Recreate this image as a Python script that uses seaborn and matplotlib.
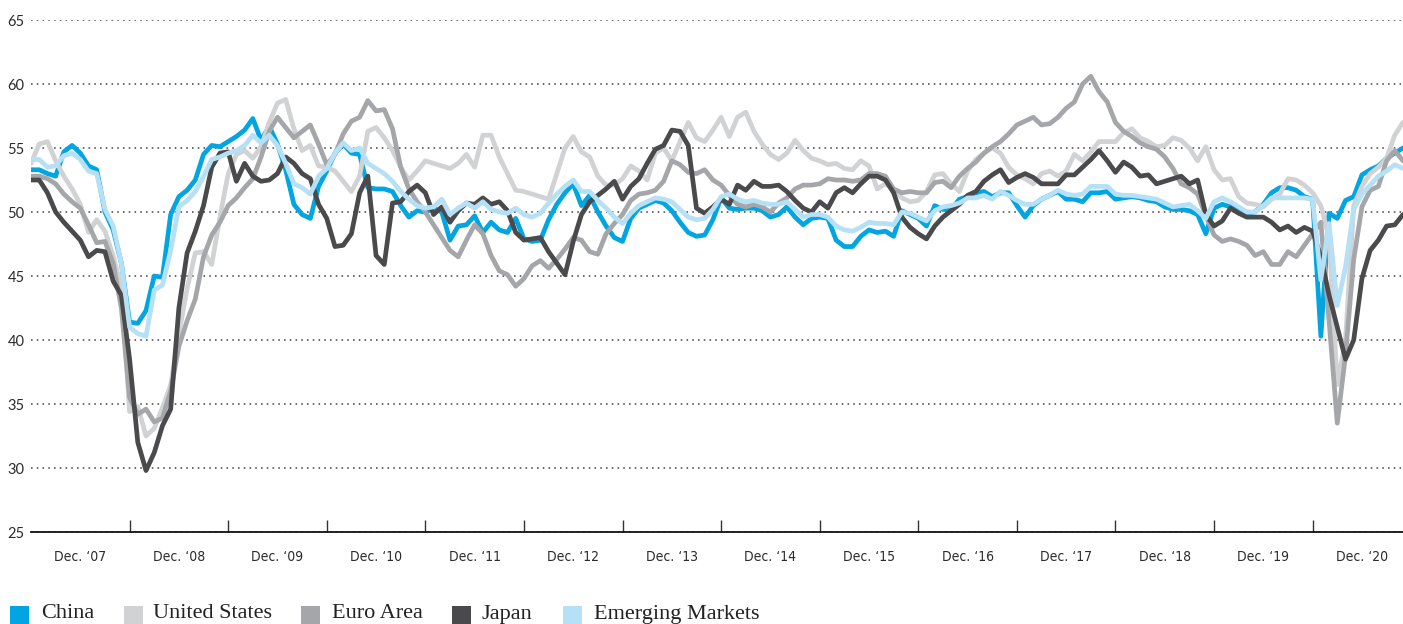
import numpy as np
import pandas as pd
import matplotlib
matplotlib.use("Agg")
import matplotlib.pyplot as plt
from matplotlib.patches import Rectangle
from matplotlib import font_manager
import seaborn as sns

# ---------------- data (monthly PMI readings) ----------------
series_names = ["China", "United States", "Euro Area", "Japan", "Emerging Markets"]

china = [53.3, 53.3, 53.0, 52.8, 54.7, 55.2, 54.6, 53.6, 53.3, 50.0,
         48.6, 46.0, 41.4, 41.3, 42.3, 45.0, 44.9, 49.8, 51.2, 51.7,
         52.5, 54.5, 55.2, 55.1, 55.5, 55.9, 56.4, 57.3, 55.6, 56.7,
         55.3, 53.3, 50.6, 49.8, 49.5, 52.0, 53.2, 54.6, 55.3, 54.6,
         54.5, 51.9, 51.8, 51.8, 51.6, 50.5, 49.6, 50.1, 50.0, 50.3,
         50.0, 47.8, 48.9, 49.0, 49.7, 48.4, 49.2, 48.6, 48.4, 49.5,
         47.9, 47.7, 47.8, 49.4, 50.6, 51.5, 52.2, 50.5, 51.3, 50.0,
         48.9, 48.0, 47.7, 49.5, 50.3, 50.6, 50.9, 50.7, 50.1, 49.2,
         48.4, 48.1, 48.2, 49.4, 51.1, 50.3, 50.2, 50.3, 50.3, 50.1,
         49.6, 49.8, 50.4, 49.6, 49.0, 49.5, 49.6, 49.5, 47.8, 47.3,
         47.3, 48.1, 48.6, 48.4, 48.5, 48.1, 50.1, 49.8, 49.5, 48.9,
         50.5, 50.2, 50.2, 51.0, 51.2, 51.5, 51.6, 51.2, 51.5, 51.5,
         50.5, 49.6, 50.5, 51.0, 51.3, 51.6, 51.0, 51.0, 50.8, 51.5,
         51.5, 51.6, 51.0, 51.1, 51.2, 51.1, 50.9, 50.8, 50.4, 50.2,
         50.2, 50.1, 49.8, 48.3, 50.3, 50.6, 50.4, 50.2, 49.9, 50.0,
         50.6, 51.5, 51.9, 51.9, 51.7, 51.2, 51.0, 40.3, 49.9, 49.5,
         50.9, 51.2, 52.9, 53.3, 53.6, 54.2, 54.6, 55.0]

united_states = [53.8, 55.3, 55.5, 54.0, 52.8, 51.8, 50.6, 48.4, 49.4, 48.5,
                 46.6, 44.0, 34.4, 34.8, 32.5, 33.1, 34.7, 36.5, 40.5, 44.0,
                 46.8, 46.9, 45.9, 49.6, 53.0, 54.5, 54.8, 54.2, 55.1, 57.0,
                 58.5, 58.8, 56.5, 54.8, 55.2, 53.6, 53.5, 53.2, 52.4, 51.6,
                 52.8, 56.3, 56.6, 55.8, 54.8, 53.5, 52.5, 53.2, 54.0, 53.8,
                 53.6, 53.4, 53.8, 54.5, 53.5, 56.0, 56.0, 54.3, 53.0, 51.7,
                 51.6, 51.4, 51.2, 51.0, 53.0, 55.0, 55.9, 54.7, 54.3, 52.8,
                 52.1, 52.1, 52.6, 53.6, 53.2, 52.5, 54.6, 55.0, 54.0, 55.5,
                 57.0, 55.8, 55.5, 56.4, 57.4, 55.9, 57.4, 57.8, 56.3, 55.3,
                 54.5, 54.1, 54.6, 55.6, 54.8, 54.2, 54.0, 53.7, 53.8, 53.4,
                 53.3, 54.0, 53.6, 51.8, 52.2, 51.8, 51.1, 50.8, 50.9, 51.6,
                 52.9, 53.0, 52.2, 51.6, 53.2, 54.1, 54.6, 55.0, 54.6, 53.5,
                 52.9, 52.6, 52.2, 53.0, 53.2, 52.8, 53.2, 54.5, 54.0, 54.7,
                 55.5, 55.5, 55.5, 56.2, 56.5, 55.8, 55.5, 55.1, 55.2, 55.8,
                 55.6, 55.0, 54.0, 55.1, 53.3, 52.5, 52.6, 51.2, 50.7, 50.6,
                 50.4, 51.0, 51.4, 52.6, 52.5, 52.1, 51.5, 50.5, 48.0, 36.5,
                 40.0, 50.5, 52.0, 53.0, 53.5, 54.2, 56.0, 57.0]

euro_area = [52.8, 52.8, 52.6, 52.2, 51.4, 50.8, 50.3, 49.0, 47.6, 47.7,
             46.0, 42.5, 35.5, 34.2, 34.6, 33.6, 33.9, 36.0, 39.5, 41.5,
             43.2, 46.5, 48.2, 49.2, 50.5, 51.1, 51.9, 52.6, 54.3, 56.3,
             57.4, 56.6, 55.8, 56.3, 56.8, 55.3, 53.7, 54.5, 56.1, 57.1,
             57.4, 58.7, 57.9, 58.0, 56.5, 53.5, 51.8, 50.8, 50.0, 49.0,
             48.0, 47.0, 46.5, 47.8, 49.0, 48.3, 46.6, 45.4, 45.1, 44.2,
             44.8, 45.8, 46.2, 45.6, 46.3, 47.1, 48.0, 47.8, 46.9, 46.7,
             48.3, 49.1, 49.8, 50.9, 51.4, 51.5, 51.7, 52.4, 54.0, 53.7,
             53.1, 53.0, 53.3, 52.5, 52.1, 51.3, 50.6, 50.4, 50.6, 50.4,
             50.0, 50.7, 51.1, 51.8, 52.1, 52.1, 52.2, 52.6, 52.5, 52.5,
             52.4, 52.5, 53.0, 53.0, 52.8, 51.8, 51.5, 51.6, 51.5, 51.5,
             52.3, 52.4, 51.9, 52.8, 53.4, 53.9, 54.6, 55.1, 55.5, 56.1,
             56.8, 57.1, 57.4, 56.8, 56.9, 57.4, 58.1, 58.6, 60.0, 60.6,
             59.4, 58.6, 57.0, 56.3, 55.9, 55.4, 55.1, 54.9, 54.3, 53.4,
             52.2, 51.9, 51.4, 49.7, 48.2, 47.7, 47.9, 47.7, 47.4, 46.6,
             46.9, 45.9, 45.9, 46.9, 46.5, 47.4, 48.3, 49.2, 41.5, 33.5,
             38.8, 46.3, 50.4, 51.7, 52.0, 54.0, 54.8, 54.0]

japan = [52.5, 52.5, 51.5, 50.0, 49.2, 48.5, 47.8, 46.5, 47.0, 46.9,
         44.6, 43.5, 38.5, 32.0, 29.8, 31.2, 33.3, 34.6, 42.5, 46.8,
         48.5, 50.5, 53.5, 54.6, 54.7, 52.4, 53.8, 52.8, 52.4, 52.5,
         53.0, 54.3, 53.8, 53.0, 52.6, 50.6, 49.5, 47.3, 47.4, 48.3,
         51.5, 52.8, 46.6, 45.9, 50.7, 50.8, 51.6, 52.1, 51.5, 49.8,
         50.4, 49.2, 50.1, 50.7, 50.6, 51.1, 50.6, 50.8, 50.1, 48.4,
         47.8, 47.9, 48.0, 46.9, 46.0, 45.1, 47.7, 49.8, 50.8, 51.3,
         51.8, 52.4, 51.0, 52.0, 52.6, 53.8, 54.9, 55.2, 56.4, 56.3,
         55.2, 50.3, 49.9, 50.4, 51.0, 50.6, 52.1, 51.7, 52.4, 52.0,
         52.0, 52.1, 51.6, 50.9, 50.3, 50.0, 50.8, 50.3, 51.5, 51.9,
         51.5, 52.2, 52.8, 52.8, 52.5, 51.5, 49.6, 48.8, 48.3, 47.9,
         48.9, 49.6, 50.1, 50.6, 51.3, 51.6, 52.4, 52.9, 53.3, 52.3,
         52.7, 53.0, 52.7, 52.2, 52.2, 52.2, 52.9, 52.9, 53.5, 54.1,
         54.8, 54.0, 53.1, 53.9, 53.5, 52.8, 52.9, 52.2, 52.4, 52.6,
         52.8, 52.2, 52.5, 49.8, 48.9, 49.3, 50.3, 49.9, 49.6, 49.6,
         49.6, 49.2, 48.6, 48.9, 48.4, 48.8, 48.5, 46.5, 43.5, 41.0,
         38.5, 40.0, 44.8, 47.0, 47.8, 48.9, 49.0, 49.8]

emerging_markets = [54.1, 54.1, 53.5, 53.6, 54.4, 54.6, 54.1, 53.2, 53.0, 50.2,
                    48.9, 46.0, 41.0, 40.5, 40.3, 43.9, 44.3, 47.0, 50.4, 50.9,
                    51.6, 52.8, 54.1, 54.3, 54.6, 54.8, 55.2, 56.0, 55.4, 56.0,
                    55.2, 53.8, 52.2, 51.9, 51.4, 52.8, 53.4, 54.6, 55.4, 54.8,
                    55.0, 53.8, 53.4, 53.0, 52.4, 51.6, 51.0, 50.5, 50.3, 50.4,
                    51.0, 49.8, 50.3, 50.7, 50.3, 50.8, 50.2, 50.0, 49.9, 50.3,
                    49.8, 49.6, 49.9, 50.7, 51.4, 52.0, 52.5, 51.6, 51.6, 50.9,
                    50.3, 49.6, 49.1, 49.9, 50.5, 50.8, 51.1, 51.0, 50.8, 50.2,
                    49.6, 49.4, 49.5, 50.2, 51.2, 51.4, 51.0, 50.8, 50.9, 50.7,
                    50.6, 50.6, 50.8, 50.2, 49.6, 49.8, 49.8, 49.6, 48.9, 48.6,
                    48.5, 48.8, 49.2, 49.1, 49.1, 49.0, 50.0, 49.9, 49.6, 49.3,
                    50.1, 50.4, 50.5, 50.7, 51.1, 51.1, 51.3, 51.0, 51.6, 51.3,
                    50.9, 50.6, 50.6, 51.0, 51.3, 51.7, 51.4, 51.3, 51.4, 52.0,
                    52.0, 52.0, 51.4, 51.3, 51.3, 51.2, 51.1, 51.0, 50.7, 50.4,
                    50.5, 50.6, 50.1, 49.5, 50.8, 51.1, 50.8, 50.4, 50.0, 50.0,
                    50.5, 51.1, 51.1, 51.1, 51.1, 51.1, 51.0, 44.7, 49.1, 42.7,
                    45.7, 50.2, 51.4, 52.1, 52.8, 53.2, 53.7, 53.4]

tick_labels = ["Dec. \u201807", "Dec. \u201808", "Dec. \u201809", "Dec. \u201810",
               "Dec. \u201811", "Dec. \u201812", "Dec. \u201813", "Dec. \u201814",
               "Dec. \u201815", "Dec. \u201816", "Dec. \u201817", "Dec. \u201818",
               "Dec. \u201819", "Dec. \u201820"]
y_ticks = [25, 30, 35, 40, 45, 50, 55, 60, 65]

colors = ["#00a5e1", "#d1d2d4", "#a5a6a9", "#4a4a4c", "#b5e0f6"]

# ---------------- build long table ----------------
values = [china, united_states, euro_area, japan, emerging_markets]
n = len(china)
frames = []
for name, vals in zip(series_names, values):
    frames.append(pd.DataFrame({"month": np.arange(len(vals)), "pmi": vals, "series": name}))
df = pd.concat(frames, ignore_index=True)

# ---------------- figure ----------------
sns.set_theme(style="white")
plt.rcParams["font.family"] = ["Lato", "DejaVu Sans"]

installed = {f.name for f in font_manager.fontManager.ttflist}
if "Liberation Sans Narrow" in installed:
    narrow_kw = dict(fontfamily="Liberation Sans Narrow", fontsize=11)
else:
    narrow_kw = dict(fontfamily="DejaVu Sans", fontstretch="condensed", fontsize=10)

W, H = 1403, 624
fig = plt.figure(figsize=(W / 100, H / 100), dpi=100)
ax = fig.add_axes([31 / W, 1 - 532 / H, 1 - 31 / W, (532 - 20) / H])

sns.lineplot(data=df, x="month", y="pmi", hue="series", hue_order=series_names,
             palette=colors, linewidth=3.4, legend=False, ax=ax, zorder=3)

ax.set_xlim(0, n - 1)
ax.set_ylim(25, 65)
ax.set_xlabel("")
ax.set_ylabel("")

# y axis
ax.set_yticks(y_ticks)
ax.set_yticklabels([str(v) for v in y_ticks], fontsize=10.5, color="#2b2b2b",
                   fontfamily="Lato")
ax.tick_params(axis="y", length=0, pad=4.5)
ax.yaxis.grid(True, linestyle=(0, (1, 2.6)), color="#4a4a4a", linewidth=1.15)
ax.xaxis.grid(False)
ax.set_axisbelow(True)

# x axis: tick marks at year boundaries, labels centred in each year
major_pos = list(range(12, 12 * len(tick_labels), 12))
minor_pos = [6 + 12 * i for i in range(len(tick_labels))]
ax.set_xticks(major_pos)
ax.set_xticklabels([""] * len(major_pos))
ax.set_xticks(minor_pos, minor=True)
ax.set_xticklabels(tick_labels, minor=True, color="#2b2b2b", **narrow_kw)
ax.tick_params(axis="x", which="major", direction="in", length=8.6, width=1.0,
               color="#333333", bottom=True)
ax.tick_params(axis="x", which="minor", length=0, pad=13, bottom=True)

for s in ["top", "right", "left"]:
    ax.spines[s].set_visible(False)
ax.spines["bottom"].set_color("#111111")
ax.spines["bottom"].set_linewidth(1.3)
ax.spines["bottom"].set_zorder(4)

# legend at the bottom
legend_sq_x = [10, 124, 301, 452, 563]
legend_tx_x = [41, 153, 332, 482, 594]
for name, col, sx, tx in zip(series_names, colors, legend_sq_x, legend_tx_x):
    fig.patches.append(Rectangle((sx / W, 0), 19 / W, 18 / H, transform=fig.transFigure,
                                 facecolor=col, edgecolor="none"))
    fig.text(tx / W, 5.5 / H, name, fontsize=16, color="#222222",
             family=["Liberation Serif", "DejaVu Serif"], ha="left", va="baseline")

fig.savefig("out.png", dpi=100)
